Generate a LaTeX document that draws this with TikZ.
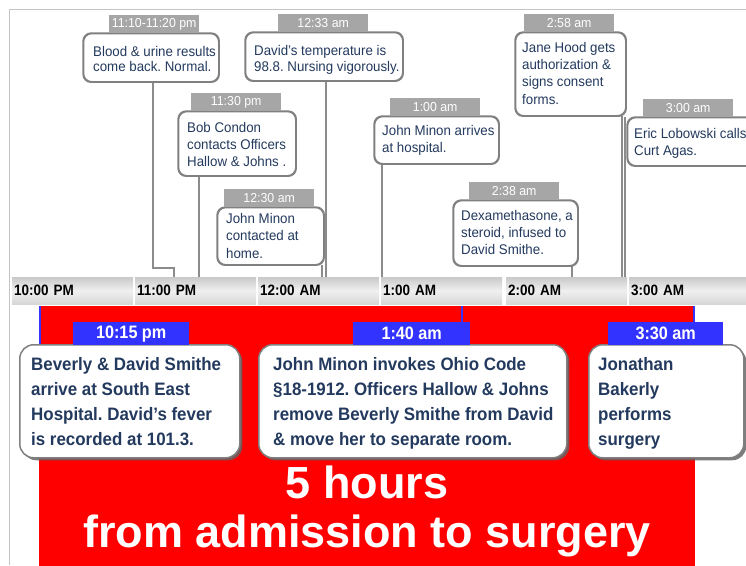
\documentclass[tikz,border=0pt]{standalone}
\usepackage{fontspec}
\setmainfont{Liberation Sans}
\newfontfamily\fa{Liberation Sans}[FakeStretch=0.95]
\newfontfamily\fb{Liberation Sans}[FakeStretch=0.9]
\newfontfamily\fc{Liberation Sans}[FakeStretch=0.94]
\usetikzlibrary{shadows}
\definecolor{navy}{HTML}{233A5E}
\definecolor{lblgray}{HTML}{A6A6A6}
\definecolor{boxline}{HTML}{808080}
\definecolor{connc}{HTML}{8C8C8C}
\definecolor{framec}{HTML}{C4C4C4}
\definecolor{myred}{HTML}{FF0000}
\definecolor{myblue}{HTML}{3333FF}
\frenchspacing
\begin{document}
\begin{tikzpicture}[x=1pt,y=-1pt,
  calbox/.style={draw=boxline, line width=1.3pt, rounded corners=8pt, fill=white, anchor=north west, inner sep=0pt},
  ctext/.style={anchor=north west, inner sep=0pt, align=left, text=navy, font=\fa\fontsize{14}{17}\selectfont},
  tlabel/.style={fill=lblgray, anchor=north west, inner sep=0pt, minimum width=90, minimum height=18, text=white, font=\fa\fontsize{13}{13}\selectfont},
  seg/.style={anchor=north west, minimum width=121, minimum height=27, inner xsep=2pt, inner ysep=0pt, text width=117, align=left, top color=gray!42, bottom color=gray!32, middle color=gray!12, font=\fb\bfseries\fontsize{15}{15}\selectfont, text=black},
  conn/.style={draw=connc, line width=2pt},
  bconn/.style={draw=myblue, line width=2.5pt},
  blabel/.style={fill=myblue, anchor=north west, inner sep=0pt, minimum height=23, text=white, font=\fb\bfseries\fontsize{18}{18}\selectfont},
  bigbox/.style={draw=boxline, line width=1.5pt, rounded corners=14pt, fill=white, anchor=north west, inner sep=0pt, minimum height=113, drop shadow={shadow xshift=2.5pt, shadow yshift=-2.5pt, fill=black!60, opacity=0.85}},
  btext/.style={anchor=north west, inner sep=0pt, align=left, text=navy, font=\fc\bfseries\fontsize{18}{25}\selectfont},
  hugetext/.style={anchor=base, inner sep=0pt, text=white, font=\bfseries\fontsize{45}{45}\selectfont}
]
\useasboundingbox (0,0) rectangle (746,565);
\fill[white] (0,0) rectangle (746,565);
\draw[framec, line width=1pt] (9,565) -- (9,9) -- (746,9);

% timeline
\node[seg] (s1) at (12,277) {10:00 PM};
\node[seg] (s2) at (135,277) {11:00 PM};
\node[seg] (s3) at (258,277) {12:00 AM};
\node[seg] (s4) at (381,277) {1:00 AM};
\node[seg] (s5) at (506,277) {2:00 AM};
\node[seg] (s6) at (629,277) {3:00 AM};

% connector coordinates on the timeline
\coordinate (kA) at (174,277);
\coordinate (kB) at (199,277);
\coordinate (kC) at (322,277);
\coordinate (kD) at (326,277);
\coordinate (kE) at (382,277);
\coordinate (kF) at (572,277);
\coordinate (kG) at (622,277);
\coordinate (kH) at (625,277);
\coordinate (jA) at (153,268);
\coordinate (jA2) at (174,268);

% top callout boxes
\node[calbox, minimum width=135, minimum height=48] (bA) at (83,33) {};
\node[calbox, minimum width=117, minimum height=64] (bB) at (178,111) {};
\node[calbox, minimum width=106, minimum height=57] (bC) at (217,207) {};
\node[calbox, minimum width=157, minimum height=48] (bD) at (245,32) {};
\node[calbox, minimum width=124, minimum height=47] (bE) at (374,116) {};
\node[calbox, minimum width=124, minimum height=65] (bF) at (453,200) {};
\node[calbox, minimum width=110, minimum height=83] (bG) at (515,32) {};
\node[calbox, minimum width=130, minimum height=48] (bH) at (627,117) {};

% connectors
\draw[conn] (bA.south -| jA) -- (jA) -- (jA2) -- (kA);
\draw[conn] (bB.south -| kB) -- (kB);
\draw[conn] (bC.south -| kC) -- (kC);
\draw[conn] (bD.south -| kD) -- (kD);
\draw[conn] (bE.south -| kE) -- (kE);
\draw[conn] (bF.south -| kF) -- (kF);
\draw[conn] (bG.south -| kG) -- (kG);
\draw[conn] (bH.north -| kH) -- (kH);

% redraw box outlines over connector ends
\foreach \b in {bA,bB,bC,bD,bE,bF,bG,bH}{
  \draw[boxline, line width=1.3pt, rounded corners=8pt] (\b.north west) rectangle (\b.south east);
}

% gray time labels
\node[tlabel] (lA) at (109,15) {11:10-11:20 pm};
\node[tlabel] (lB) at (191,93) {11:30 pm};
\node[tlabel] (lC) at (224,189) {12:30 am};
\node[tlabel] (lD) at (278,14) {12:33 am};
\node[tlabel] (lE) at (390,98) {1:00 am};
\node[tlabel] (lF) at (469,182) {2:38 am};
\node[tlabel] (lG) at (524,14) {2:58 am};
\node[tlabel] (lH) at (643,99) {3:00 am};

% callout texts
\node[ctext, font=\fa\fontsize{14}{15.5}\selectfont] (tA) at (93,46) {Blood \& urine results\\come back. Normal.};
\node[ctext] (tB) at (187,122) {Bob Condon\\contacts Officers\\Hallow \& Johns .};
\node[ctext, font=\fa\fontsize{14}{17.5}\selectfont] (tC) at (226,213) {John Minon\\contacted at\\home.};
\node[ctext, font=\fa\fontsize{14}{16}\selectfont] (tD) at (254,45) {David’s temperature is\\98.8. Nursing vigorously.};
\node[ctext, font=\fa\fontsize{14}{17.5}\selectfont] (tE) at (382,125) {John Minon arrives\\at hospital.};
\node[ctext] (tF) at (461,210) {Dexamethasone, a\\steroid, infused to\\David Smithe.};
\node[ctext, font=\fa\fontsize{14}{17.3}\selectfont] (tG) at (522,42) {Jane Hood gets\\authorization \&\\signs consent\\forms.};
\node[ctext] (tH) at (634,128) {Eric Lobowski calls\\Curt Agas.};

% red background
\node[fill=myred, anchor=north west, inner sep=0pt, minimum width=656, minimum height=260] (redbg) at (39,306) {};

% blue connectors
\coordinate (q1) at (40,306);
\coordinate (q2) at (462,306);
\coordinate (q3) at (694,306);

% big boxes
\node[bigbox, minimum width=220] (B1) at (19,344) {};
\node[bigbox, minimum width=308] (B2) at (258,344) {};
\node[bigbox, minimum width=155] (B3) at (588,344) {};

% blue labels
\node[blabel, minimum width=116] (L1) at (73,322) {10:15 pm};
\node[blabel, minimum width=117] (L2) at (353,322) {1:40 am};
\node[blabel, minimum width=115] (L3) at (608,322) {3:30 am};

\draw[bconn] (q1) -- (q1 |- B1.north);
\draw[bconn] (q2) -- (q2 |- L2.north);
\draw[bconn] (q3) -- (q3 |- L3.north);

% big box texts
\node[btext] (T1) at (31,357) {Beverly \& David Smithe\\arrive at South East\\Hospital. David’s fever\\is recorded at 101.3.};
\node[btext] (T2) at (273,357) {John Minon invokes Ohio Code\\§18-1912. Officers Hallow \& Johns\\remove Beverly Smithe from David\\\& move her to separate room.};
\node[btext] (T3) at (598,357) {Jonathan\\Bakerly\\performs\\surgery};

% huge text
\node[hugetext] (H1) at (367,498) {5 hours};
\node[hugetext] (H2) at (367,547) {from admission to surgery};
\end{tikzpicture}
\end{document}
